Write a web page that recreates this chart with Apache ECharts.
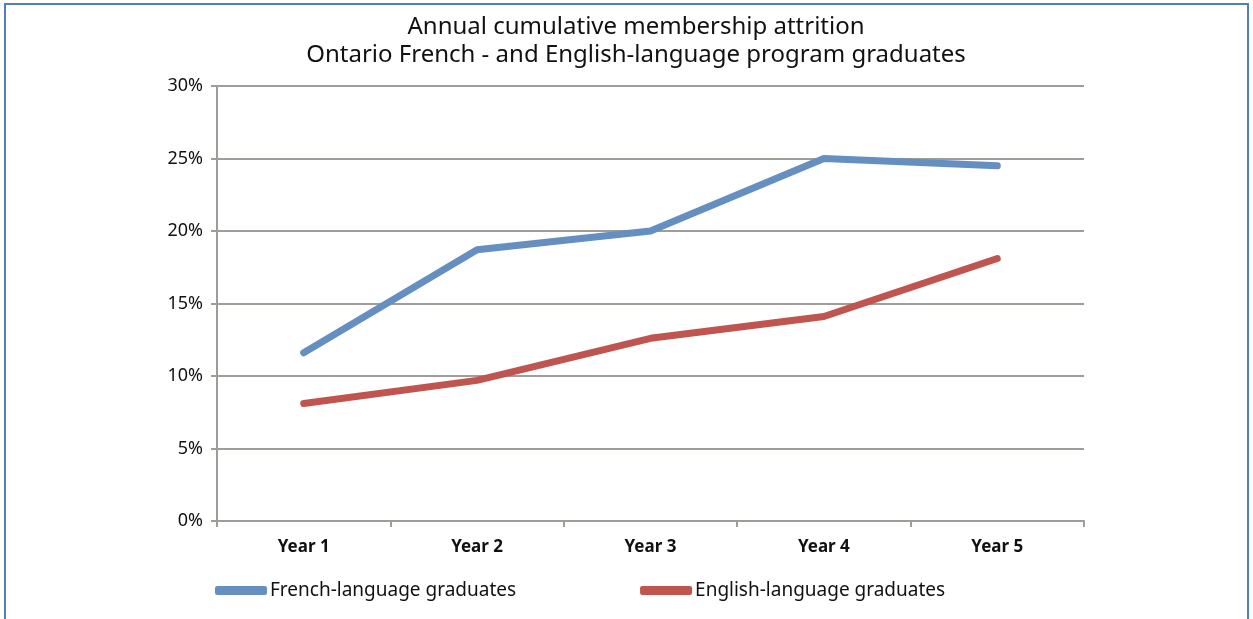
<!DOCTYPE html>
<html>
<head>
<meta charset="utf-8">
<script src="https://cdn.jsdelivr.net/npm/echarts@6/dist/echarts.min.js"></script>
<style>
  html, body { margin: 0; padding: 0; background: #fff; }
  #frame {
    position: absolute; left: 4px; top: 3px; width: 1245px; height: 630px;
    border: 2px solid #4f7fbf; box-sizing: border-box;
  }
  #chart { position: absolute; left: 0; top: 0; width: 1253px; height: 619px; }
</style>
</head>
<body>
<div id="frame"></div>
<div id="chart"></div>
<script>
const years = ['Year 1', 'Year 2', 'Year 3', 'Year 4', 'Year 5']
const frenchGrads = [11.6, 18.7, 20.0, 25.0, 24.5]
const englishGrads = [8.1, 9.7, 12.6, 14.1, 18.1]

const font = '"Noto Sans", "Open Sans", sans-serif'
const chart = echarts.init(document.getElementById('chart'))

chart.setOption({
  animation: false,
  title: {
    text: 'Annual cumulative membership attrition\nOntario French - and English-language program graduates',
    left: 631,
    textAlign: 'center',
    top: 8,
    textStyle: { fontFamily: font, fontSize: 24, fontWeight: 'normal', color: '#111', lineHeight: 28 }
  },
  legend: {
    bottom: 14,
    left: 210,
    itemWidth: 52,
    itemHeight: 9,
    itemGap: 124,
    icon: 'roundRect',
    textStyle: { fontFamily: font, fontSize: 19, color: '#111', padding: [0, 0, 0, -2] },
    data: ['French-language graduates', 'English-language graduates']
  },
  grid: { left: 217, right: 169, top: 86, bottom: 98 },
  xAxis: {
    type: 'category',
    data: years,
    boundaryGap: true,
    axisLine: { lineStyle: { color: '#a09c98', width: 2 } },
    axisTick: { show: true, length: 6, lineStyle: { color: '#a09c98', width: 2 } },
    axisLabel: { fontFamily: font, fontSize: 17, fontWeight: 'bold', color: '#111', margin: 18 }
  },
  yAxis: {
    type: 'value',
    min: 0,
    max: 30,
    interval: 5,
    axisLine: { show: true, lineStyle: { color: '#a09c98', width: 2 } },
    axisTick: { show: true, length: 6, lineStyle: { color: '#a09c98', width: 2 } },
    splitLine: { lineStyle: { color: '#a09c98', width: 2 } },
    axisLabel: { fontFamily: font, fontSize: 18, color: '#111', margin: 14, formatter: '{value}%' }
  },
  series: [
    {
      name: 'French-language graduates',
      type: 'line',
      data: frenchGrads,
      symbol: 'none',
      color: '#658fc0',
      lineStyle: { width: 7, cap: 'round', join: 'round' }
    },
    {
      name: 'English-language graduates',
      type: 'line',
      data: englishGrads,
      symbol: 'none',
      color: '#c0554f',
      lineStyle: { width: 7, cap: 'round', join: 'round' }
    }
  ]
})
</script>
</body>
</html>
